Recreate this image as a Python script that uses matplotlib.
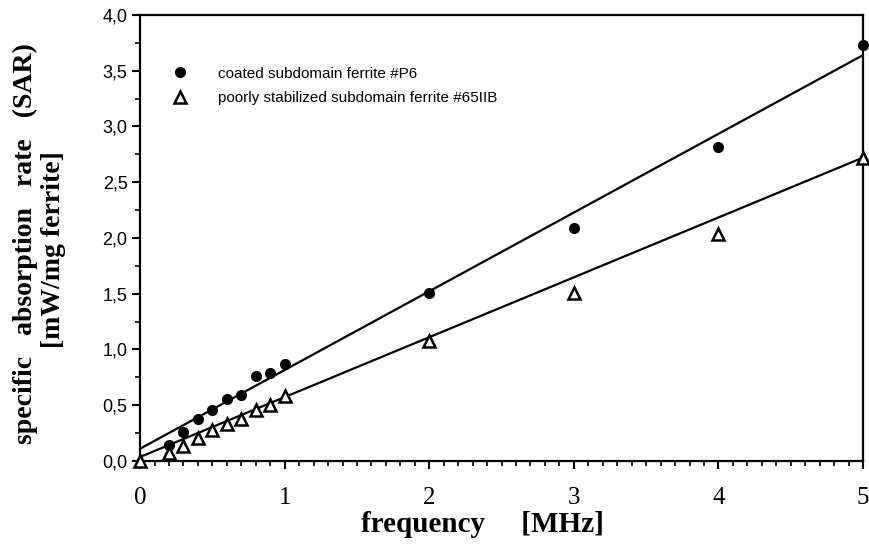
import numpy as np
import matplotlib.pyplot as plt
from matplotlib.ticker import MultipleLocator, FixedLocator
from matplotlib.lines import Line2D

# frequency in MHz
freq = [0.2, 0.3, 0.4, 0.5, 0.6, 0.7, 0.8, 0.9, 1.0, 2.0, 3.0, 4.0, 5.0]
sar_p6 = [0.14, 0.26, 0.38, 0.46, 0.56, 0.59, 0.76, 0.79, 0.87, 1.51, 2.09, 2.82, 3.73]

freq_65 = [0.0, 0.2, 0.3, 0.4, 0.5, 0.6, 0.7, 0.8, 0.9, 1.0, 2.0, 3.0, 4.0, 5.0]
sar_65 = [0.0, 0.07, 0.13, 0.21, 0.28, 0.33, 0.38, 0.46, 0.50, 0.58, 1.08, 1.51, 2.04, 2.72]

# linear fits (intercept, slope)
fit_p6 = (0.11, 0.706)
fit_65 = (0.036, 0.537)

yticks = [0.0, 0.5, 1.0, 1.5, 2.0, 2.5, 3.0, 3.5, 4.0]
ytick_labels = ['0,0', '0,5', '1,0', '1,5', '2,0', '2,5', '3,0', '3,5', '4,0']
xticks = [0, 1, 2, 3, 4, 5]

labels = ['coated subdomain ferrite #P6',
          'poorly stabilized subdomain ferrite #65IIB']

fig = plt.figure(figsize=(8.7, 5.44), dpi=100)
ax = fig.add_axes([0.161, 0.1526, 0.831, 0.8199])

xf = np.array([0.0, 5.0])
ax.plot(xf, fit_p6[0] + fit_p6[1] * xf, color='black', lw=1.6, zorder=2)
ax.plot(xf, fit_65[0] + fit_65[1] * xf, color='black', lw=1.6, zorder=2)

ax.plot(freq, sar_p6, 'o', color='black', ms=7, clip_on=False, zorder=3)
ax.plot(freq_65, sar_65, '^', mfc='white', mec='black', mew=1.8, ms=8.5,
        clip_on=False, zorder=4)

ax.set_xlim(0, 5)
ax.set_ylim(0, 4)

ax.yaxis.set_major_locator(FixedLocator(yticks))
ax.set_yticklabels(ytick_labels, family='Liberation Sans', fontsize=13)
ax.yaxis.set_minor_locator(MultipleLocator(0.25))
ax.xaxis.set_major_locator(FixedLocator(xticks))
ax.set_xticklabels([str(t) for t in xticks], family='Liberation Serif', fontsize=18)
ax.xaxis.set_minor_locator(MultipleLocator(0.1))

ax.tick_params(which='major', direction='out', length=6, width=1.5)
ax.tick_params(which='minor', direction='out', length=3.5, width=1.2)
ax.tick_params(axis='x', which='major', pad=13)
ax.tick_params(axis='y', which='major', pad=3)
for s in ax.spines.values():
    s.set_linewidth(1.6)

handles = [Line2D([], [], ls='none', marker='o', color='black', ms=7),
           Line2D([], [], ls='none', marker='^', mfc='white', mec='black', mew=1.8, ms=8.5)]
ax.legend(handles, labels, loc='upper left', bbox_to_anchor=(0.025, 0.915),
          frameon=False, handlelength=1.0, handletextpad=2.0, labelspacing=0.7,
          prop={'family': 'Liberation Sans', 'size': 11})

fig.text(0.029, 0.553, 'specific   absorption   rate   (SAR)', rotation=90,
         ha='center', va='center', family='Liberation Serif', weight='bold', fontsize=20)
fig.text(0.062, 0.542, '[mW/mg ferrite]', rotation=90,
         ha='center', va='center', family='Liberation Serif', weight='bold', fontsize=20)
fig.text(0.555, 0.035, 'frequency     [MHz]', ha='center', va='center',
         family='Liberation Serif', weight='bold', fontsize=21)

fig.savefig('out.png', dpi=100)
